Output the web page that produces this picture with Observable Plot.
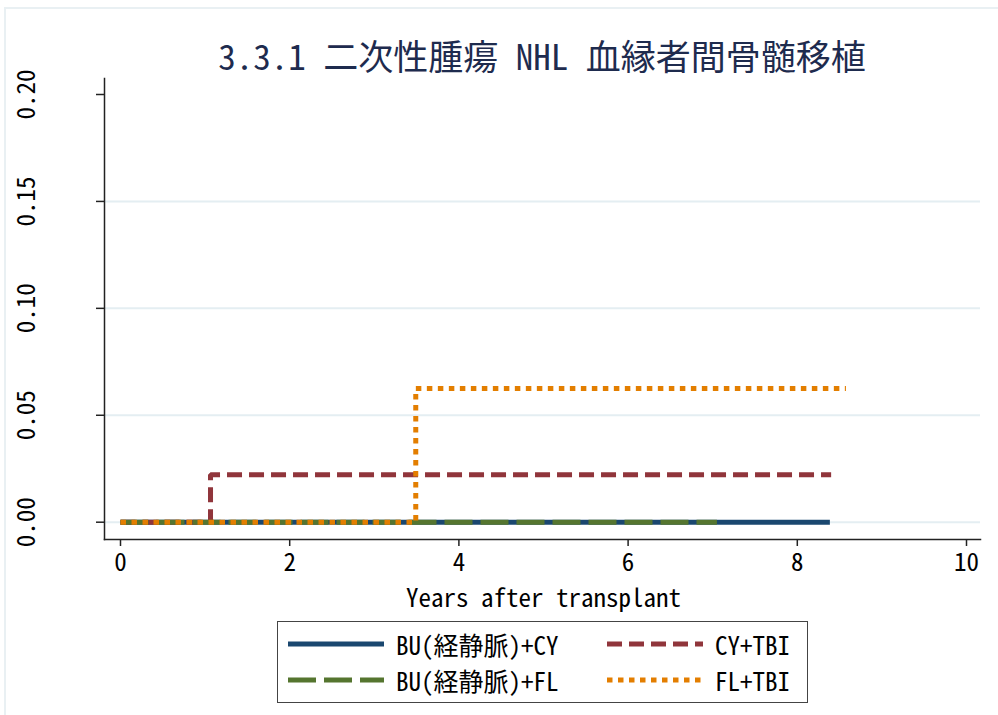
<!DOCTYPE html>
<html>
<head>
<meta charset="utf-8">
<script src="https://cdn.jsdelivr.net/npm/d3@7"></script>
<script src="https://cdn.jsdelivr.net/npm/@observablehq/plot@0.6"></script>
<style>
  html, body { margin: 0; padding: 0; background: #fff; }
  #wrap { position: relative; width: 998px; height: 715px; overflow: hidden; background: #fff;
    font-family: "Noto Sans Mono CJK JP", "Noto Sans CJK JP", monospace; }
  #border { position: absolute; left: 4px; top: 7px; width: 1010px; height: 730px; border: 2px solid #e9f0f3; box-sizing: border-box; }
  #title { position: absolute; left: 0; top: 0; }
  #chart { position: absolute; left: 0; top: 0; }
  #legend { position: absolute; left: 277px; top: 621px; width: 531px; height: 82px; border: 1.5px solid #444; box-sizing: border-box; background: #fff; }
  .item { position: absolute; height: 30px; display: flex; align-items: center; font-size: 25px; color: #000; white-space: nowrap; }
  .item svg { margin-right: 12px; }
</style>
</head>
<body>
<div id="wrap">
  <div id="border"></div>
  <div id="chart"></div>
  <svg id="title" width="998" height="90"></svg>
  <div id="legend"></div>
</div>
<script>
// ---- data ----
const titleText = "3.3.1 二次性腫瘍 NHL 血縁者間骨髄移植";
const xLabel = "Years after transplant";
const seriesNames = ["BU(経静脈)+CY", "CY+TBI", "BU(経静脈)+FL", "FL+TBI"];
const seriesColors = ["#1a476f", "#90353b", "#55752f", "#e37e00"];
const seriesDash = [null, "15,7", "28,8", "5.5,5.5"];
const buCyTime = [0, 8.385];
const buCyValue = [0, 0];
const cyTbiTime = [0, 1.064, 8.40];
const cyTbiValue = [0, 0.0222, 0.0222];
const buFlTime = [0, 7.05];
const buFlValue = [0, 0];
const flTbiTime = [0, 3.49, 8.575];
const flTbiValue = [0, 0.0625, 0.0625];
const xTicks = [0, 2, 4, 6, 8, 10];
const yTicks = [0, 0.05, 0.10, 0.15, 0.20];
const yGrid = [0, 0.05, 0.10, 0.15];
const yTickLabels = ["0.00", "0.05", "0.10", "0.15", "0.20"];

const times = [buCyTime, cyTbiTime, buFlTime, flTbiTime];
const values = [buCyValue, cyTbiValue, buFlValue, flTbiValue];
const series = seriesNames.map((name, i) => ({
  name, color: seriesColors[i], dash: seriesDash[i],
  data: times[i].map((t, j) => ({t, v: values[i][j]}))
}));

const FONT = '"Noto Sans Mono CJK JP", "Noto Sans CJK JP", monospace';

const chart = Plot.plot({
  width: 998,
  height: 715,
  marginTop: 78,
  marginBottom: 176,
  marginLeft: 104,
  marginRight: 18,
  style: { fontFamily: FONT, fontSize: "25px", color: "#000", background: "transparent" },
  x: { domain: [0, 10], range: [120, 966] },
  y: { domain: [0, 0.2], range: [521.7, 94] },
  marks: [
    Plot.gridY(yGrid, { stroke: "#e4eef2", strokeOpacity: 1, strokeWidth: 2 }),
    Plot.frame({ anchor: "left", stroke: "#222", strokeWidth: 1.5 }),
    Plot.frame({ anchor: "bottom", stroke: "#222", strokeWidth: 1.5 }),
    Plot.axisX({ ticks: xTicks, tickSize: 7, tickPadding: 7, tickFormat: d => String(d),
      label: null, fontSize: 25, fontFamily: FONT, stroke: "#222", strokeWidth: 1.5 }),
    Plot.axisY({ ticks: yTicks, tickSize: 8, tickFormat: () => "", label: null, stroke: "#222", strokeWidth: 1.5 }),
    Plot.text(yTicks, { y: d => d, text: (d, i) => yTickLabels[i], frameAnchor: "left", dx: -78,
      rotate: -90, textAnchor: "middle", lineAnchor: "middle", fontSize: 25, fill: "#000" }),
    Plot.text([xLabel], { text: d => d, frameAnchor: "bottom", x: 5, dy: 67, textAnchor: "middle",
      lineAnchor: "bottom", fontSize: 25, fill: "#000" }),
    ...series.map(s => Plot.line(s.data, {
      x: "t", y: "v", curve: "step-after", stroke: s.color, strokeWidth: 5,
      strokeDasharray: s.dash, strokeLinecap: "butt", strokeLinejoin: "miter"
    }))
  ]
});
document.getElementById("chart").appendChild(chart);

// title
const tsvg = d3.select("#title");
tsvg.append("text")
  .attr("x", 542).attr("y", 70)
  .attr("text-anchor", "middle")
  .attr("font-family", FONT)
  .attr("font-size", 35)
  .attr("fill", "#1e2b4e")
  .text(titleText);

// legend (rows: [0,1], [2,3])
const legend = d3.select("#legend");
const pos = [
  {left: 10, top: 7}, {left: 329, top: 7},
  {left: 10, top: 43}, {left: 329, top: 43}
];
series.forEach((s, i) => {
  const item = legend.append("div").attr("class", "item")
    .style("left", pos[i].left + "px").style("top", pos[i].top + "px");
  const sv = item.append("svg").attr("width", 96).attr("height", 30);
  sv.append("line").attr("x1", 0).attr("x2", 96).attr("y1", 15).attr("y2", 15)
    .attr("stroke", s.color).attr("stroke-width", 5)
    .attr("stroke-dasharray", s.dash).attr("stroke-linecap", "butt");
  item.append("span").text(s.name);
});
</script>
</body>
</html>
